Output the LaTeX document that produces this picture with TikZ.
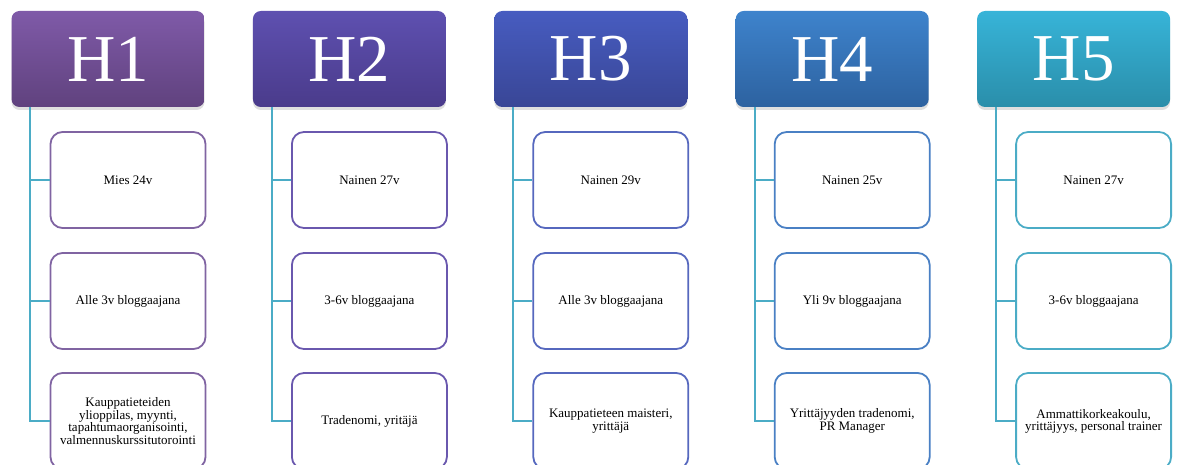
\documentclass[tikz,border=0pt]{standalone}
\usepackage{fontspec}
\setmainfont{Liberation Serif}
\usepackage{xcolor}
\usepackage{tikz}
\usetikzlibrary{positioning, shadows}

\definecolor{hatop1}{HTML}{7F5AA8}
\definecolor{habot1}{HTML}{60427E}
\definecolor{hatop2}{HTML}{5E50B0}
\definecolor{habot2}{HTML}{4A3B8B}
\definecolor{hatop3}{HTML}{475CC0}
\definecolor{habot3}{HTML}{394696}
\definecolor{hatop4}{HTML}{3E83CC}
\definecolor{habot4}{HTML}{2D62A0}
\definecolor{hatop5}{HTML}{37B4D8}
\definecolor{habot5}{HTML}{2A8EAA}
\definecolor{edge1}{HTML}{8064A2}
\definecolor{edge2}{HTML}{6A58AE}
\definecolor{edge3}{HTML}{5668BE}
\definecolor{edge4}{HTML}{4A80C4}
\definecolor{edge5}{HTML}{4BACC6}
\definecolor{linkcol}{HTML}{4BACC6}

\tikzset{
  headbox/.style={
    rounded corners=8pt, minimum width=193pt, minimum height=96pt,
    text=white, font=\fontsize{67}{67}\selectfont, inner sep=0pt,
    drop shadow={shadow xshift=0pt, shadow yshift=-3pt, opacity=0.25}
  },
  itembox/.style={
    draw, line width=1.8pt, rounded corners=12pt, fill=white,
    minimum width=155pt, minimum height=96pt, align=center,
    font=\fontsize{13}{10.8}\selectfont, inner sep=2pt
  },
  linkline/.style={line width=2pt, color=linkcol}
}

\begin{document}
\begin{tikzpicture}[x=1pt, y=-1pt]
  \clip (0,0) rectangle (1177,465);

  % === Headers ===
  \node[headbox, top color=hatop1, bottom color=habot1] (h1) at (108, 59) {H1};
  \node[headbox, top color=hatop2, bottom color=habot2] (h2) at (349.4, 59) {H2};
  \node[headbox, top color=hatop3, bottom color=habot3] (h3) at (590.8, 59) {H3};
  \node[headbox, top color=hatop4, bottom color=habot4] (h4) at (832.2, 59) {H4};
  \node[headbox, top color=hatop5, bottom color=habot5] (h5) at (1073.6, 59) {H5};

  % === Items ===
  \node[itembox, draw=edge1] (h1a) at (128, 180) {Mies 24v};
  \node[itembox, draw=edge1] (h1b) at (128, 301) {Alle 3v bloggaajana};
  \node[itembox, draw=edge1] (h1c) at (128, 421)
    {Kauppatieteiden\\ylioppilas, myynti,\\tapahtumaorganisointi,\\valmennuskurssitutorointi};

  \node[itembox, draw=edge2] (h2a) at (369.4, 180) {Nainen 27v};
  \node[itembox, draw=edge2] (h2b) at (369.4, 301) {3-6v bloggaajana};
  \node[itembox, draw=edge2] (h2c) at (369.4, 421) {Tradenomi, yritäjä};

  \node[itembox, draw=edge3] (h3a) at (610.8, 180) {Nainen 29v};
  \node[itembox, draw=edge3] (h3b) at (610.8, 301) {Alle 3v bloggaajana};
  \node[itembox, draw=edge3] (h3c) at (610.8, 421) {Kauppatieteen maisteri,\\yrittäjä};

  \node[itembox, draw=edge4] (h4a) at (852.2, 180) {Nainen 25v};
  \node[itembox, draw=edge4] (h4b) at (852.2, 301) {Yli 9v bloggaajana};
  \node[itembox, draw=edge4] (h4c) at (852.2, 421) {Yrittäjyyden tradenomi,\\PR Manager};

  \node[itembox, draw=edge5] (h5a) at (1093.6, 180) {Nainen 27v};
  \node[itembox, draw=edge5] (h5b) at (1093.6, 301) {3-6v bloggaajana};
  \node[itembox, draw=edge5] (h5c) at (1093.6, 421)
    {Ammattikorkeakoulu,\\yrittäjyys, personal trainer};

  % === Links ===
  \draw[linkline] ([xshift=19pt]h1.south west) |- (h1a.west);
  \draw[linkline] ([xshift=19pt]h1.south west) |- (h1b.west);
  \draw[linkline] ([xshift=19pt]h1.south west) |- (h1c.west);
  \draw[linkline] ([xshift=19pt]h2.south west) |- (h2a.west);
  \draw[linkline] ([xshift=19pt]h2.south west) |- (h2b.west);
  \draw[linkline] ([xshift=19pt]h2.south west) |- (h2c.west);
  \draw[linkline] ([xshift=19pt]h3.south west) |- (h3a.west);
  \draw[linkline] ([xshift=19pt]h3.south west) |- (h3b.west);
  \draw[linkline] ([xshift=19pt]h3.south west) |- (h3c.west);
  \draw[linkline] ([xshift=19pt]h4.south west) |- (h4a.west);
  \draw[linkline] ([xshift=19pt]h4.south west) |- (h4b.west);
  \draw[linkline] ([xshift=19pt]h4.south west) |- (h4c.west);
  \draw[linkline] ([xshift=19pt]h5.south west) |- (h5a.west);
  \draw[linkline] ([xshift=19pt]h5.south west) |- (h5b.west);
  \draw[linkline] ([xshift=19pt]h5.south west) |- (h5c.west);
\end{tikzpicture}
\end{document}
